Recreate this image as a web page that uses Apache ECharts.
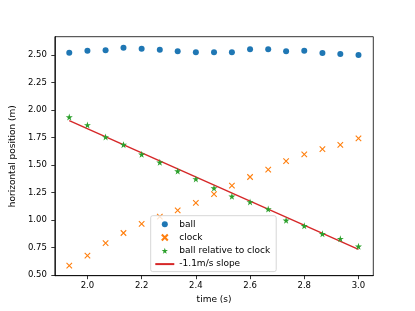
<!DOCTYPE html>
<html>
<head>
<meta charset="utf-8">
<script src="https://cdn.jsdelivr.net/npm/echarts@6/dist/echarts.min.js"></script>
<style>
html,body{margin:0;padding:0;background:#fff;}
#c{width:415px;height:311px;}
</style>
</head>
<body>
<div id="c"></div>
<script>
const times = [1.933, 2.0, 2.067, 2.133, 2.2, 2.267, 2.333, 2.4, 2.467, 2.533, 2.6, 2.667, 2.733, 2.8, 2.867, 2.933, 3.0];
const ball = [2.521, 2.539, 2.543, 2.566, 2.557, 2.548, 2.534, 2.525, 2.525, 2.525, 2.552, 2.552, 2.534, 2.539, 2.518, 2.509, 2.500];
const clock = [0.585, 0.676, 0.791, 0.882, 0.964, 1.030, 1.088, 1.155, 1.236, 1.312, 1.391, 1.457, 1.536, 1.597, 1.645, 1.682, 1.743];
const relative = [1.936, 1.864, 1.755, 1.685, 1.597, 1.525, 1.445, 1.373, 1.291, 1.215, 1.164, 1.100, 0.997, 0.948, 0.875, 0.830, 0.761];
const slopeT = [1.933, 3.0];
const slopeY = [1.903, 0.734];
const xTicks = [2.0, 2.2, 2.4, 2.6, 2.8, 3.0];
const yTicks = [0.5, 0.75, 1.0, 1.25, 1.5, 1.75, 2.0, 2.25, 2.5];
const seriesNames = ['ball', 'clock', 'ball relative to clock', '-1.1m/s slope'];

const pair = (xs, ys) => xs.map((x, i) => [x, ys[i]]);
const FONT = 'DejaVu Sans';
const XPATH = 'path://M0,0L10,10M10,0L0,10';
const STAR = 'path://M50,0L61,35L98,35L68,57L79,91L50,70L21,91L32,57L2,35L39,35Z';

const chart = echarts.init(document.getElementById('c'), null, {renderer: 'canvas'});
chart.setOption({
  animation: false,
  textStyle: {fontFamily: FONT},
  grid: {left: 51, top: 36.7, right: 41.7, bottom: 35.3, show: true, borderColor: '#000', borderWidth: 0.8, backgroundColor: 'transparent'},
  xAxis: {
    type: 'value', min: 1.8797, max: 3.0547,
    name: 'time (s)', nameLocation: 'middle', nameGap: 18,
    nameTextStyle: {fontFamily: FONT, fontSize: 9, color: '#000'},
    axisLine: {show: true, onZero: false, lineStyle: {color: '#000', width: 0.8}},
    axisTick: {show: true, inside: false, length: 3.5, customValues: xTicks, lineStyle: {color: '#000', width: 0.8}},
    axisLabel: {customValues: xTicks, margin: 6, fontFamily: FONT, fontSize: 8.5, color: '#000', formatter: v => v.toFixed(1)},
    splitLine: {show: false}
  },
  yAxis: {
    type: 'value', min: 0.494, max: 2.666,
    name: 'horizontal position (m)', nameLocation: 'middle', nameGap: 29.5,
    nameTextStyle: {fontFamily: FONT, fontSize: 9, color: '#000'},
    axisLine: {show: true, onZero: false, lineStyle: {color: '#000', width: 0.8}},
    axisTick: {show: true, inside: false, length: 3.5, customValues: yTicks, lineStyle: {color: '#000', width: 0.8}},
    axisLabel: {customValues: yTicks, margin: 8, fontFamily: FONT, fontSize: 8.5, color: '#000', formatter: v => v.toFixed(2)},
    splitLine: {show: false}
  },
  legend: {
    orient: 'vertical', left: 150.7, top: 215.7,
    padding: [4, 6, 3, 3.6], itemGap: 4.3, itemWidth: 19, itemHeight: 6,
    backgroundColor: 'rgba(255,255,255,0.8)', borderColor: '#cccccc', borderWidth: 0.8, borderRadius: 2,
    textStyle: {fontFamily: FONT, fontSize: 9, color: '#000'},
    data: [
      {name: seriesNames[0]},
      {name: seriesNames[1]},
      {name: seriesNames[2]},
      {name: seriesNames[3], itemStyle: {opacity: 0}}
    ]
  },
  series: [
    {name: seriesNames[0], type: 'scatter', symbol: 'circle', symbolSize: 6, itemStyle: {color: '#1f77b4', opacity: 1}, data: pair(times, ball), z: 3},
    {name: seriesNames[1], type: 'scatter', symbol: XPATH, symbolSize: 5.5, itemStyle: {color: 'rgba(0,0,0,0)', borderColor: '#ff7f0e', borderWidth: 1.1, opacity: 1}, data: pair(times, clock), z: 3},
    {name: seriesNames[2], type: 'scatter', symbol: STAR, symbolSize: 7, itemStyle: {color: '#2ca02c', opacity: 1}, data: pair(times, relative), z: 3},
    {name: seriesNames[3], type: 'line', symbol: 'none', showSymbol: false, lineStyle: {color: '#d62728', width: 1.4}, itemStyle: {color: '#d62728'}, data: pair(slopeT, slopeY), z: 2}
  ]
});
</script>
</body>
</html>
